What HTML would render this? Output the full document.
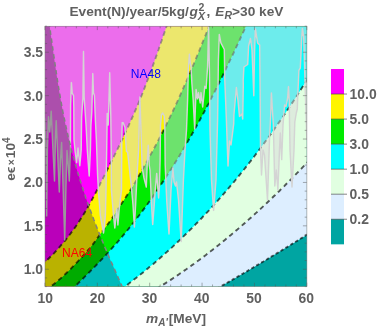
<!DOCTYPE html>
<html><head><meta charset="utf-8"><title>plot</title>
<style>html,body{margin:0;padding:0;background:#fff;width:382px;height:328px;overflow:hidden}</style></head>
<body>
<svg width="382" height="328" viewBox="0 0 382 328" style="position:absolute;left:0;top:0;will-change:transform">
<defs><clipPath id="c"><rect x="45.0" y="26.2" width="261.9" height="260.4"/></clipPath></defs>
<g clip-path="url(#c)">
<rect x="40" y="20" width="280" height="280" fill="#ff00ff"/>
<path d="M41.4 265.3 L44.1 262.9 L46.7 260.4 L49.2 258.0 L51.7 255.5 L54.1 253.1 L56.4 250.6 L58.6 248.2 L60.7 245.7 L62.8 243.3 L64.9 240.8 L66.9 238.4 L68.8 235.9 L70.6 233.5 L72.4 231.0 L74.2 228.6 L75.9 226.2 L77.6 223.7 L79.2 221.3 L80.8 218.8 L82.3 216.4 L83.8 213.9 L85.3 211.5 L86.7 209.0 L88.1 206.6 L89.5 204.1 L90.8 201.7 L92.2 199.2 L93.5 196.8 L94.8 194.4 L96.1 191.9 L97.3 189.5 L98.6 187.0 L99.8 184.6 L101.0 182.1 L102.3 179.7 L103.5 177.2 L104.7 174.8 L106.0 172.3 L107.2 169.9 L108.4 167.4 L109.6 165.0 L110.9 162.5 L112.1 160.1 L113.3 157.7 L114.5 155.2 L115.7 152.8 L116.9 150.3 L118.1 147.9 L119.3 145.4 L120.4 143.0 L121.6 140.5 L122.8 138.1 L123.9 135.6 L125.1 133.2 L126.2 130.7 L127.4 128.3 L128.5 125.9 L129.6 123.4 L130.7 121.0 L131.8 118.5 L132.9 116.1 L134.0 113.6 L135.0 111.2 L136.1 108.7 L137.1 106.3 L138.2 103.8 L139.2 101.4 L140.2 98.9 L141.2 96.5 L142.2 94.0 L143.1 91.6 L144.1 89.2 L145.0 86.7 L146.0 84.3 L146.9 81.8 L147.8 79.4 L148.8 76.9 L149.7 74.5 L150.6 72.0 L151.5 69.6 L152.3 67.1 L153.2 64.7 L154.1 62.2 L155.0 59.8 L155.8 57.4 L156.7 54.9 L157.5 52.5 L158.4 50.0 L159.2 47.6 L160.1 45.1 L160.9 42.7 L161.8 40.2 L162.6 37.8 L163.4 35.3 L164.3 32.9 L165.1 30.4 L166.0 28.0 L166.8 25.5 L167.6 23.1 L326.8 18.1 L326.8 306.6 L36.4 306.6 Z" fill="#fff500"/>
<path d="M45.4 290.4 L49.2 287.7 L52.7 285.0 L56.1 282.3 L59.3 279.6 L62.3 276.9 L65.2 274.2 L68.0 271.5 L70.7 268.9 L73.3 266.2 L75.9 263.5 L78.4 260.8 L80.9 258.1 L83.4 255.4 L85.9 252.7 L88.3 250.0 L90.6 247.3 L92.7 244.6 L94.7 241.9 L96.6 239.2 L98.5 236.5 L100.5 233.8 L102.5 231.2 L104.6 228.5 L106.6 225.8 L108.6 223.1 L110.5 220.4 L112.4 217.7 L114.2 215.0 L116.0 212.3 L117.7 209.6 L119.5 206.9 L121.2 204.2 L123.0 201.5 L124.8 198.8 L126.5 196.1 L128.3 193.5 L130.0 190.8 L131.7 188.1 L133.4 185.4 L135.0 182.7 L136.6 180.0 L138.1 177.3 L139.7 174.6 L141.1 171.9 L142.6 169.2 L144.1 166.5 L145.6 163.8 L147.1 161.1 L148.5 158.4 L150.0 155.8 L151.5 153.1 L153.0 150.4 L154.4 147.7 L155.9 145.0 L157.3 142.3 L158.7 139.6 L160.1 136.9 L161.5 134.2 L162.9 131.5 L164.2 128.8 L165.6 126.1 L166.9 123.4 L168.2 120.7 L169.5 118.1 L170.8 115.4 L172.1 112.7 L173.4 110.0 L174.7 107.3 L175.9 104.6 L177.2 101.9 L178.4 99.2 L179.6 96.5 L180.8 93.8 L182.0 91.1 L183.2 88.4 L184.4 85.7 L185.6 83.0 L186.8 80.4 L188.0 77.7 L189.1 75.0 L190.3 72.3 L191.4 69.6 L192.5 66.9 L193.7 64.2 L194.8 61.5 L195.9 58.8 L197.0 56.1 L198.1 53.4 L199.3 50.7 L200.4 48.0 L201.5 45.3 L202.5 42.7 L203.6 40.0 L204.7 37.3 L205.8 34.6 L206.9 31.9 L208.0 29.2 L209.0 26.5 L210.1 23.8 L326.8 18.8 L326.8 306.6 L40.4 306.6 Z" fill="#00eb00"/>
<path d="M70.8 290.4 L73.6 287.7 L76.4 285.0 L79.2 282.3 L81.9 279.6 L84.6 276.9 L87.3 274.2 L90.0 271.5 L92.7 268.8 L95.3 266.1 L97.9 263.4 L100.5 260.7 L103.0 258.0 L105.6 255.3 L108.0 252.6 L110.5 249.9 L112.9 247.2 L115.3 244.5 L117.7 241.8 L120.0 239.1 L122.3 236.4 L124.6 233.7 L126.8 231.0 L129.0 228.3 L131.2 225.6 L133.3 222.9 L135.4 220.2 L137.5 217.5 L139.6 214.8 L141.6 212.1 L143.6 209.4 L145.6 206.7 L147.6 204.0 L149.5 201.3 L151.4 198.6 L153.3 195.9 L155.2 193.2 L157.0 190.5 L158.9 187.8 L160.7 185.1 L162.5 182.4 L164.3 179.7 L166.0 177.0 L167.8 174.3 L169.5 171.6 L171.2 168.9 L172.9 166.2 L174.6 163.5 L176.3 160.8 L177.9 158.1 L179.6 155.4 L181.2 152.7 L182.8 150.0 L184.4 147.3 L186.0 144.6 L187.6 141.9 L189.1 139.2 L190.7 136.5 L192.2 133.8 L193.7 131.1 L195.2 128.4 L196.7 125.7 L198.2 123.0 L199.7 120.3 L201.1 117.6 L202.6 114.9 L204.0 112.2 L205.4 109.5 L206.8 106.8 L208.3 104.1 L209.7 101.4 L211.0 98.7 L212.4 96.0 L213.8 93.3 L215.2 90.6 L216.5 87.9 L217.9 85.2 L219.2 82.5 L220.5 79.8 L221.9 77.1 L223.2 74.4 L224.5 71.7 L225.8 69.0 L227.1 66.3 L228.4 63.6 L229.7 60.9 L231.0 58.2 L232.3 55.5 L233.6 52.8 L234.8 50.1 L236.1 47.4 L237.4 44.7 L238.6 42.0 L239.9 39.3 L241.1 36.6 L242.4 33.9 L243.7 31.2 L244.9 28.5 L246.1 25.8 L247.4 23.1 L326.8 18.1 L326.8 306.6 L65.8 306.6 Z" fill="#00ffff"/>
<path d="M120.6 289.8 L122.5 288.3 L124.4 286.9 L126.4 285.5 L128.3 284.0 L130.2 282.5 L132.1 281.1 L134.0 279.6 L136.0 278.1 L137.9 276.5 L139.8 275.0 L141.7 273.5 L143.7 271.9 L145.6 270.3 L147.5 268.7 L149.4 267.1 L151.3 265.5 L153.3 263.9 L155.2 262.3 L157.1 260.6 L159.0 258.9 L160.9 257.3 L162.9 255.6 L164.8 253.8 L166.7 252.1 L168.6 250.4 L170.6 248.6 L172.5 246.9 L174.4 245.1 L176.3 243.3 L178.2 241.5 L180.2 239.6 L182.1 237.8 L184.0 235.9 L185.9 234.0 L187.8 232.2 L189.8 230.2 L191.7 228.3 L193.6 226.4 L195.5 224.4 L197.4 222.5 L199.4 220.5 L201.3 218.5 L203.2 216.4 L205.1 214.4 L207.1 212.3 L209.0 210.3 L210.9 208.2 L212.8 206.1 L214.7 204.0 L216.7 201.8 L218.6 199.7 L220.5 197.5 L222.4 195.3 L224.3 193.1 L226.3 190.9 L228.2 188.6 L230.1 186.4 L232.0 184.1 L234.0 181.8 L235.9 179.5 L237.8 177.1 L239.7 174.8 L241.6 172.4 L243.6 170.0 L245.5 167.6 L247.4 165.2 L249.3 162.7 L251.2 160.3 L253.2 157.8 L255.1 155.3 L257.0 152.7 L258.9 150.2 L260.8 147.6 L262.8 145.0 L264.7 142.4 L266.6 139.8 L268.5 137.2 L270.5 134.5 L272.4 131.8 L274.3 129.1 L276.2 126.4 L278.1 123.6 L280.1 120.9 L282.0 118.1 L283.9 115.3 L285.8 112.5 L287.7 109.6 L289.7 106.7 L291.6 103.8 L293.5 100.9 L295.4 98.0 L297.4 95.0 L299.3 92.0 L301.2 89.0 L303.1 86.0 L305.0 83.0 L307.0 79.9 L308.9 76.8 L310.8 73.7 L326.8 68.7 L326.8 306.6 L115.6 306.6 Z" fill="#e1ffe1"/>
<path d="M156.2 288.9 L157.8 288.0 L159.3 287.0 L160.9 286.0 L162.4 285.1 L164.0 284.1 L165.6 283.1 L167.1 282.1 L168.7 281.1 L170.3 280.1 L171.8 279.1 L173.4 278.0 L174.9 277.0 L176.5 276.0 L178.1 274.9 L179.6 273.8 L181.2 272.8 L182.7 271.7 L184.3 270.6 L185.9 269.5 L187.4 268.4 L189.0 267.3 L190.6 266.2 L192.1 265.1 L193.7 264.0 L195.2 262.9 L196.8 261.7 L198.4 260.6 L199.9 259.4 L201.5 258.3 L203.0 257.1 L204.6 255.9 L206.2 254.7 L207.7 253.5 L209.3 252.3 L210.9 251.1 L212.4 249.9 L214.0 248.7 L215.5 247.4 L217.1 246.2 L218.7 245.0 L220.2 243.7 L221.8 242.5 L223.3 241.2 L224.9 239.9 L226.5 238.6 L228.0 237.3 L229.6 236.0 L231.2 234.7 L232.7 233.4 L234.3 232.1 L235.8 230.8 L237.4 229.5 L239.0 228.1 L240.5 226.8 L242.1 225.4 L243.7 224.0 L245.2 222.7 L246.8 221.3 L248.3 219.9 L249.9 218.5 L251.5 217.1 L253.0 215.7 L254.6 214.3 L256.1 212.9 L257.7 211.5 L259.3 210.0 L260.8 208.6 L262.4 207.1 L264.0 205.7 L265.5 204.2 L267.1 202.7 L268.6 201.3 L270.2 199.8 L271.8 198.3 L273.3 196.8 L274.9 195.3 L276.4 193.8 L278.0 192.2 L279.6 190.7 L281.1 189.2 L282.7 187.6 L284.3 186.1 L285.8 184.5 L287.4 183.0 L288.9 181.4 L290.5 179.8 L292.1 178.2 L293.6 176.6 L295.2 175.0 L296.7 173.4 L298.3 171.8 L299.9 170.2 L301.4 168.6 L303.0 166.9 L304.6 165.3 L306.1 163.7 L307.7 162.0 L309.2 160.3 L310.8 158.7 L326.8 153.7 L326.8 306.6 L151.2 306.6 Z" fill="#ddeeff"/>
<path d="M216.9 288.7 L217.8 288.2 L218.8 287.6 L219.7 287.1 L220.7 286.5 L221.6 286.0 L222.6 285.4 L223.5 284.9 L224.5 284.3 L225.4 283.8 L226.4 283.3 L227.3 282.7 L228.3 282.2 L229.2 281.6 L230.2 281.1 L231.1 280.5 L232.1 280.0 L233.0 279.4 L234.0 278.9 L234.9 278.3 L235.9 277.7 L236.8 277.2 L237.8 276.6 L238.7 276.1 L239.7 275.5 L240.6 275.0 L241.6 274.4 L242.5 273.9 L243.5 273.3 L244.4 272.7 L245.4 272.2 L246.3 271.6 L247.3 271.1 L248.2 270.5 L249.1 269.9 L250.1 269.4 L251.0 268.8 L252.0 268.3 L252.9 267.7 L253.9 267.1 L254.8 266.6 L255.8 266.0 L256.7 265.4 L257.7 264.9 L258.6 264.3 L259.6 263.7 L260.5 263.2 L261.5 262.6 L262.4 262.0 L263.4 261.5 L264.3 260.9 L265.3 260.3 L266.2 259.8 L267.2 259.2 L268.1 258.6 L269.1 258.0 L270.0 257.5 L271.0 256.9 L271.9 256.3 L272.9 255.7 L273.8 255.2 L274.8 254.6 L275.7 254.0 L276.7 253.4 L277.6 252.9 L278.6 252.3 L279.5 251.7 L280.4 251.1 L281.4 250.6 L282.3 250.0 L283.3 249.4 L284.2 248.8 L285.2 248.2 L286.1 247.6 L287.1 247.1 L288.0 246.5 L289.0 245.9 L289.9 245.3 L290.9 244.7 L291.8 244.1 L292.8 243.5 L293.7 243.0 L294.7 242.4 L295.6 241.8 L296.6 241.2 L297.5 240.6 L298.5 240.0 L299.4 239.4 L300.4 238.8 L301.3 238.2 L302.3 237.7 L303.2 237.1 L304.2 236.5 L305.1 235.9 L306.1 235.3 L307.0 234.7 L308.0 234.1 L308.9 233.5 L309.9 232.9 L310.8 232.3 L326.8 227.3 L326.8 306.6 L211.9 306.6 Z" fill="#00a5a2"/>
<path d="M41.4 265.3 L44.1 262.9 L46.7 260.4 L49.2 258.0 L51.7 255.5 L54.1 253.1 L56.4 250.6 L58.6 248.2 L60.7 245.7 L62.8 243.3 L64.9 240.8 L66.9 238.4 L68.8 235.9 L70.6 233.5 L72.4 231.0 L74.2 228.6 L75.9 226.2 L77.6 223.7 L79.2 221.3 L80.8 218.8 L82.3 216.4 L83.8 213.9 L85.3 211.5 L86.7 209.0 L88.1 206.6 L89.5 204.1 L90.8 201.7 L92.2 199.2 L93.5 196.8 L94.8 194.4 L96.1 191.9 L97.3 189.5 L98.6 187.0 L99.8 184.6 L101.0 182.1 L102.3 179.7 L103.5 177.2 L104.7 174.8 L106.0 172.3 L107.2 169.9 L108.4 167.4 L109.6 165.0 L110.9 162.5 L112.1 160.1 L113.3 157.7 L114.5 155.2 L115.7 152.8 L116.9 150.3 L118.1 147.9 L119.3 145.4 L120.4 143.0 L121.6 140.5 L122.8 138.1 L123.9 135.6 L125.1 133.2 L126.2 130.7 L127.4 128.3 L128.5 125.9 L129.6 123.4 L130.7 121.0 L131.8 118.5 L132.9 116.1 L134.0 113.6 L135.0 111.2 L136.1 108.7 L137.1 106.3 L138.2 103.8 L139.2 101.4 L140.2 98.9 L141.2 96.5 L142.2 94.0 L143.1 91.6 L144.1 89.2 L145.0 86.7 L146.0 84.3 L146.9 81.8 L147.8 79.4 L148.8 76.9 L149.7 74.5 L150.6 72.0 L151.5 69.6 L152.3 67.1 L153.2 64.7 L154.1 62.2 L155.0 59.8 L155.8 57.4 L156.7 54.9 L157.5 52.5 L158.4 50.0 L159.2 47.6 L160.1 45.1 L160.9 42.7 L161.8 40.2 L162.6 37.8 L163.4 35.3 L164.3 32.9 L165.1 30.4 L166.0 28.0 L166.8 25.5 L167.6 23.1" fill="none" stroke="#000" stroke-opacity="0.64" stroke-width="1.9" stroke-dasharray="4.6 3.6"/>
<path d="M45.4 290.4 L49.2 287.7 L52.7 285.0 L56.1 282.3 L59.3 279.6 L62.3 276.9 L65.2 274.2 L68.0 271.5 L70.7 268.9 L73.3 266.2 L75.9 263.5 L78.4 260.8 L80.9 258.1 L83.4 255.4 L85.9 252.7 L88.3 250.0 L90.6 247.3 L92.7 244.6 L94.7 241.9 L96.6 239.2 L98.5 236.5 L100.5 233.8 L102.5 231.2 L104.6 228.5 L106.6 225.8 L108.6 223.1 L110.5 220.4 L112.4 217.7 L114.2 215.0 L116.0 212.3 L117.7 209.6 L119.5 206.9 L121.2 204.2 L123.0 201.5 L124.8 198.8 L126.5 196.1 L128.3 193.5 L130.0 190.8 L131.7 188.1 L133.4 185.4 L135.0 182.7 L136.6 180.0 L138.1 177.3 L139.7 174.6 L141.1 171.9 L142.6 169.2 L144.1 166.5 L145.6 163.8 L147.1 161.1 L148.5 158.4 L150.0 155.8 L151.5 153.1 L153.0 150.4 L154.4 147.7 L155.9 145.0 L157.3 142.3 L158.7 139.6 L160.1 136.9 L161.5 134.2 L162.9 131.5 L164.2 128.8 L165.6 126.1 L166.9 123.4 L168.2 120.7 L169.5 118.1 L170.8 115.4 L172.1 112.7 L173.4 110.0 L174.7 107.3 L175.9 104.6 L177.2 101.9 L178.4 99.2 L179.6 96.5 L180.8 93.8 L182.0 91.1 L183.2 88.4 L184.4 85.7 L185.6 83.0 L186.8 80.4 L188.0 77.7 L189.1 75.0 L190.3 72.3 L191.4 69.6 L192.5 66.9 L193.7 64.2 L194.8 61.5 L195.9 58.8 L197.0 56.1 L198.1 53.4 L199.3 50.7 L200.4 48.0 L201.5 45.3 L202.5 42.7 L203.6 40.0 L204.7 37.3 L205.8 34.6 L206.9 31.9 L208.0 29.2 L209.0 26.5 L210.1 23.8" fill="none" stroke="#000" stroke-opacity="0.64" stroke-width="1.9" stroke-dasharray="4.6 3.6"/>
<path d="M70.8 290.4 L73.6 287.7 L76.4 285.0 L79.2 282.3 L81.9 279.6 L84.6 276.9 L87.3 274.2 L90.0 271.5 L92.7 268.8 L95.3 266.1 L97.9 263.4 L100.5 260.7 L103.0 258.0 L105.6 255.3 L108.0 252.6 L110.5 249.9 L112.9 247.2 L115.3 244.5 L117.7 241.8 L120.0 239.1 L122.3 236.4 L124.6 233.7 L126.8 231.0 L129.0 228.3 L131.2 225.6 L133.3 222.9 L135.4 220.2 L137.5 217.5 L139.6 214.8 L141.6 212.1 L143.6 209.4 L145.6 206.7 L147.6 204.0 L149.5 201.3 L151.4 198.6 L153.3 195.9 L155.2 193.2 L157.0 190.5 L158.9 187.8 L160.7 185.1 L162.5 182.4 L164.3 179.7 L166.0 177.0 L167.8 174.3 L169.5 171.6 L171.2 168.9 L172.9 166.2 L174.6 163.5 L176.3 160.8 L177.9 158.1 L179.6 155.4 L181.2 152.7 L182.8 150.0 L184.4 147.3 L186.0 144.6 L187.6 141.9 L189.1 139.2 L190.7 136.5 L192.2 133.8 L193.7 131.1 L195.2 128.4 L196.7 125.7 L198.2 123.0 L199.7 120.3 L201.1 117.6 L202.6 114.9 L204.0 112.2 L205.4 109.5 L206.8 106.8 L208.3 104.1 L209.7 101.4 L211.0 98.7 L212.4 96.0 L213.8 93.3 L215.2 90.6 L216.5 87.9 L217.9 85.2 L219.2 82.5 L220.5 79.8 L221.9 77.1 L223.2 74.4 L224.5 71.7 L225.8 69.0 L227.1 66.3 L228.4 63.6 L229.7 60.9 L231.0 58.2 L232.3 55.5 L233.6 52.8 L234.8 50.1 L236.1 47.4 L237.4 44.7 L238.6 42.0 L239.9 39.3 L241.1 36.6 L242.4 33.9 L243.7 31.2 L244.9 28.5 L246.1 25.8 L247.4 23.1" fill="none" stroke="#000" stroke-opacity="0.64" stroke-width="1.9" stroke-dasharray="4.6 3.6"/>
<path d="M120.6 289.8 L122.5 288.3 L124.4 286.9 L126.4 285.5 L128.3 284.0 L130.2 282.5 L132.1 281.1 L134.0 279.6 L136.0 278.1 L137.9 276.5 L139.8 275.0 L141.7 273.5 L143.7 271.9 L145.6 270.3 L147.5 268.7 L149.4 267.1 L151.3 265.5 L153.3 263.9 L155.2 262.3 L157.1 260.6 L159.0 258.9 L160.9 257.3 L162.9 255.6 L164.8 253.8 L166.7 252.1 L168.6 250.4 L170.6 248.6 L172.5 246.9 L174.4 245.1 L176.3 243.3 L178.2 241.5 L180.2 239.6 L182.1 237.8 L184.0 235.9 L185.9 234.0 L187.8 232.2 L189.8 230.2 L191.7 228.3 L193.6 226.4 L195.5 224.4 L197.4 222.5 L199.4 220.5 L201.3 218.5 L203.2 216.4 L205.1 214.4 L207.1 212.3 L209.0 210.3 L210.9 208.2 L212.8 206.1 L214.7 204.0 L216.7 201.8 L218.6 199.7 L220.5 197.5 L222.4 195.3 L224.3 193.1 L226.3 190.9 L228.2 188.6 L230.1 186.4 L232.0 184.1 L234.0 181.8 L235.9 179.5 L237.8 177.1 L239.7 174.8 L241.6 172.4 L243.6 170.0 L245.5 167.6 L247.4 165.2 L249.3 162.7 L251.2 160.3 L253.2 157.8 L255.1 155.3 L257.0 152.7 L258.9 150.2 L260.8 147.6 L262.8 145.0 L264.7 142.4 L266.6 139.8 L268.5 137.2 L270.5 134.5 L272.4 131.8 L274.3 129.1 L276.2 126.4 L278.1 123.6 L280.1 120.9 L282.0 118.1 L283.9 115.3 L285.8 112.5 L287.7 109.6 L289.7 106.7 L291.6 103.8 L293.5 100.9 L295.4 98.0 L297.4 95.0 L299.3 92.0 L301.2 89.0 L303.1 86.0 L305.0 83.0 L307.0 79.9 L308.9 76.8 L310.8 73.7" fill="none" stroke="#000" stroke-opacity="0.64" stroke-width="1.9" stroke-dasharray="4.6 3.6"/>
<path d="M156.2 288.9 L157.8 288.0 L159.3 287.0 L160.9 286.0 L162.4 285.1 L164.0 284.1 L165.6 283.1 L167.1 282.1 L168.7 281.1 L170.3 280.1 L171.8 279.1 L173.4 278.0 L174.9 277.0 L176.5 276.0 L178.1 274.9 L179.6 273.8 L181.2 272.8 L182.7 271.7 L184.3 270.6 L185.9 269.5 L187.4 268.4 L189.0 267.3 L190.6 266.2 L192.1 265.1 L193.7 264.0 L195.2 262.9 L196.8 261.7 L198.4 260.6 L199.9 259.4 L201.5 258.3 L203.0 257.1 L204.6 255.9 L206.2 254.7 L207.7 253.5 L209.3 252.3 L210.9 251.1 L212.4 249.9 L214.0 248.7 L215.5 247.4 L217.1 246.2 L218.7 245.0 L220.2 243.7 L221.8 242.5 L223.3 241.2 L224.9 239.9 L226.5 238.6 L228.0 237.3 L229.6 236.0 L231.2 234.7 L232.7 233.4 L234.3 232.1 L235.8 230.8 L237.4 229.5 L239.0 228.1 L240.5 226.8 L242.1 225.4 L243.7 224.0 L245.2 222.7 L246.8 221.3 L248.3 219.9 L249.9 218.5 L251.5 217.1 L253.0 215.7 L254.6 214.3 L256.1 212.9 L257.7 211.5 L259.3 210.0 L260.8 208.6 L262.4 207.1 L264.0 205.7 L265.5 204.2 L267.1 202.7 L268.6 201.3 L270.2 199.8 L271.8 198.3 L273.3 196.8 L274.9 195.3 L276.4 193.8 L278.0 192.2 L279.6 190.7 L281.1 189.2 L282.7 187.6 L284.3 186.1 L285.8 184.5 L287.4 183.0 L288.9 181.4 L290.5 179.8 L292.1 178.2 L293.6 176.6 L295.2 175.0 L296.7 173.4 L298.3 171.8 L299.9 170.2 L301.4 168.6 L303.0 166.9 L304.6 165.3 L306.1 163.7 L307.7 162.0 L309.2 160.3 L310.8 158.7" fill="none" stroke="#000" stroke-opacity="0.64" stroke-width="1.9" stroke-dasharray="4.6 3.6"/>
<path d="M216.9 288.7 L217.8 288.2 L218.8 287.6 L219.7 287.1 L220.7 286.5 L221.6 286.0 L222.6 285.4 L223.5 284.9 L224.5 284.3 L225.4 283.8 L226.4 283.3 L227.3 282.7 L228.3 282.2 L229.2 281.6 L230.2 281.1 L231.1 280.5 L232.1 280.0 L233.0 279.4 L234.0 278.9 L234.9 278.3 L235.9 277.7 L236.8 277.2 L237.8 276.6 L238.7 276.1 L239.7 275.5 L240.6 275.0 L241.6 274.4 L242.5 273.9 L243.5 273.3 L244.4 272.7 L245.4 272.2 L246.3 271.6 L247.3 271.1 L248.2 270.5 L249.1 269.9 L250.1 269.4 L251.0 268.8 L252.0 268.3 L252.9 267.7 L253.9 267.1 L254.8 266.6 L255.8 266.0 L256.7 265.4 L257.7 264.9 L258.6 264.3 L259.6 263.7 L260.5 263.2 L261.5 262.6 L262.4 262.0 L263.4 261.5 L264.3 260.9 L265.3 260.3 L266.2 259.8 L267.2 259.2 L268.1 258.6 L269.1 258.0 L270.0 257.5 L271.0 256.9 L271.9 256.3 L272.9 255.7 L273.8 255.2 L274.8 254.6 L275.7 254.0 L276.7 253.4 L277.6 252.9 L278.6 252.3 L279.5 251.7 L280.4 251.1 L281.4 250.6 L282.3 250.0 L283.3 249.4 L284.2 248.8 L285.2 248.2 L286.1 247.6 L287.1 247.1 L288.0 246.5 L289.0 245.9 L289.9 245.3 L290.9 244.7 L291.8 244.1 L292.8 243.5 L293.7 243.0 L294.7 242.4 L295.6 241.8 L296.6 241.2 L297.5 240.6 L298.5 240.0 L299.4 239.4 L300.4 238.8 L301.3 238.2 L302.3 237.7 L303.2 237.1 L304.2 236.5 L305.1 235.9 L306.1 235.3 L307.0 234.7 L308.0 234.1 L308.9 233.5 L309.9 232.9 L310.8 232.3" fill="none" stroke="#000" stroke-opacity="0.64" stroke-width="1.9" stroke-dasharray="3.3 2.4"/>
<path d="M40.0 21.2 L40.0 118.0 L44.6 118.0 L46.0 150.0 L46.7 216.0 L47.4 150.0 L48.5 116.7 L49.8 132.0 L51.2 111.3 L52.5 140.0 L54.5 181.0 L55.4 140.0 L56.2 120.7 L57.5 150.0 L59.3 192.0 L60.5 160.0 L61.6 142.5 L63.2 190.0 L64.7 240.0 L66.0 185.0 L67.0 150.5 L68.2 165.0 L69.3 181.0 L70.4 150.0 L70.6 105.0 L71.4 82.6 L72.2 93.0 L73.5 95.6 L73.8 107.0 L74.0 140.0 L75.2 152.0 L76.6 162.6 L78.0 148.0 L79.8 165.7 L81.2 150.0 L81.6 117.0 L82.9 98.0 L83.5 51.4 L84.2 98.0 L86.2 128.0 L87.3 150.0 L89.2 176.0 L90.4 150.0 L90.9 126.0 L91.8 112.0 L92.8 73.6 L93.5 93.0 L94.4 95.6 L95.4 120.0 L96.4 140.0 L97.6 175.0 L98.4 190.0 L100.3 215.0 L102.8 229.0 L103.5 233.0 L104.1 229.0 L105.4 215.0 L106.0 190.0 L106.7 150.0 L107.2 113.4 L108.2 125.0 L108.7 110.0 L109.7 72.8 L110.8 116.0 L111.2 150.0 L111.4 190.0 L113.5 215.0 L114.8 228.0 L116.9 209.0 L117.9 225.0 L119.2 208.8 L121.5 190.0 L121.8 140.0 L122.2 122.6 L123.2 122.8 L125.0 127.5 L125.7 140.0 L126.4 151.3 L127.7 152.6 L129.0 165.0 L130.6 180.0 L131.3 186.0 L133.0 205.0 L134.4 227.0 L135.6 205.0 L137.0 175.0 L138.6 150.0 L139.9 97.0 L141.6 150.0 L142.2 168.0 L144.0 178.0 L146.3 187.0 L147.2 165.0 L148.2 145.2 L149.2 165.0 L150.0 170.0 L151.5 204.0 L152.7 224.5 L154.2 205.0 L155.2 190.0 L156.7 173.5 L157.8 188.0 L158.6 198.0 L159.4 186.0 L160.1 160.0 L160.5 125.0 L161.5 115.0 L162.8 113.0 L164.2 116.0 L164.9 130.0 L165.2 165.0 L166.8 202.0 L169.0 234.0 L171.0 190.0 L172.9 168.0 L174.0 182.0 L175.5 186.0 L176.5 182.0 L178.5 200.0 L181.2 241.5 L183.4 180.0 L185.0 150.0 L186.5 130.0 L187.6 100.0 L188.3 70.0 L189.4 54.3 L190.3 63.0 L191.0 66.8 L191.9 83.5 L193.2 100.0 L194.2 120.0 L194.7 129.0 L195.3 110.0 L196.1 89.5 L197.5 98.8 L198.5 92.6 L200.2 103.0 L201.0 92.6 L202.7 107.0 L204.8 86.3 L206.1 88.5 L207.6 66.8 L208.6 27.0 L209.5 75.0 L210.0 130.0 L211.5 180.0 L213.6 210.4 L216.0 180.0 L217.6 120.0 L218.4 60.0 L219.3 34.4 L220.9 42.8 L224.3 49.5 L224.8 80.0 L226.4 120.0 L228.0 166.0 L229.5 141.0 L231.0 145.0 L233.7 124.0 L233.9 115.0 L236.4 87.5 L237.9 100.0 L239.5 116.4 L242.0 114.0 L242.7 119.0 L243.3 85.0 L243.2 80.0 L243.9 67.0 L247.7 64.5 L248.6 46.0 L250.5 38.5 L252.0 50.0 L253.8 95.7 L254.6 50.0 L255.4 28.9 L257.6 43.0 L259.7 45.0 L260.1 88.0 L260.5 148.0 L261.5 175.0 L263.0 150.0 L264.5 155.0 L267.5 200.0 L269.5 140.0 L270.7 115.0 L271.4 92.9 L272.4 110.0 L273.3 124.0 L274.8 186.0 L276.3 170.0 L277.9 190.0 L279.5 150.0 L280.3 133.0 L281.7 159.6 L283.0 125.0 L283.9 113.7 L284.6 105.0 L286.0 106.4 L287.5 99.0 L288.5 86.6 L289.2 100.0 L290.0 150.0 L292.0 187.0 L294.0 150.0 L294.8 122.0 L296.3 113.0 L297.3 109.0 L297.8 94.7 L298.5 80.0 L298.9 70.3 L300.3 68.0 L301.6 41.0 L302.4 28.4 L303.7 36.8 L305.2 88.0 L306.8 140.0 L311.8 140.0 L311.8 21.2 Z" fill="rgba(217,217,217,0.5)"/>
<path d="M44.6 118.0 L46.0 150.0 L46.7 216.0 L47.4 150.0 L48.5 116.7 L49.8 132.0 L51.2 111.3 L52.5 140.0 L54.5 181.0 L55.4 140.0 L56.2 120.7 L57.5 150.0 L59.3 192.0 L60.5 160.0 L61.6 142.5 L63.2 190.0 L64.7 240.0 L66.0 185.0 L67.0 150.5 L68.2 165.0 L69.3 181.0 L70.4 150.0 L70.6 105.0 L71.4 82.6 L72.2 93.0 L73.5 95.6 L73.8 107.0 L74.0 140.0 L75.2 152.0 L76.6 162.6 L78.0 148.0 L79.8 165.7 L81.2 150.0 L81.6 117.0 L82.9 98.0 L83.5 51.4 L84.2 98.0 L86.2 128.0 L87.3 150.0 L89.2 176.0 L90.4 150.0 L90.9 126.0 L91.8 112.0 L92.8 73.6 L93.5 93.0 L94.4 95.6 L95.4 120.0 L96.4 140.0 L97.6 175.0 L98.4 190.0 L100.3 215.0 L102.8 229.0 L103.5 233.0 L104.1 229.0 L105.4 215.0 L106.0 190.0 L106.7 150.0 L107.2 113.4 L108.2 125.0 L108.7 110.0 L109.7 72.8 L110.8 116.0 L111.2 150.0 L111.4 190.0 L113.5 215.0 L114.8 228.0 L116.9 209.0 L117.9 225.0 L119.2 208.8 L121.5 190.0 L121.8 140.0 L122.2 122.6 L123.2 122.8 L125.0 127.5 L125.7 140.0 L126.4 151.3 L127.7 152.6 L129.0 165.0 L130.6 180.0 L131.3 186.0 L133.0 205.0 L134.4 227.0 L135.6 205.0 L137.0 175.0 L138.6 150.0 L139.9 97.0 L141.6 150.0 L142.2 168.0 L144.0 178.0 L146.3 187.0 L147.2 165.0 L148.2 145.2 L149.2 165.0 L150.0 170.0 L151.5 204.0 L152.7 224.5 L154.2 205.0 L155.2 190.0 L156.7 173.5 L157.8 188.0 L158.6 198.0 L159.4 186.0 L160.1 160.0 L160.5 125.0 L161.5 115.0 L162.8 113.0 L164.2 116.0 L164.9 130.0 L165.2 165.0 L166.8 202.0 L169.0 234.0 L171.0 190.0 L172.9 168.0 L174.0 182.0 L175.5 186.0 L176.5 182.0 L178.5 200.0 L181.2 241.5 L183.4 180.0 L185.0 150.0 L186.5 130.0 L187.6 100.0 L188.3 70.0 L189.4 54.3 L190.3 63.0 L191.0 66.8 L191.9 83.5 L193.2 100.0 L194.2 120.0 L194.7 129.0 L195.3 110.0 L196.1 89.5 L197.5 98.8 L198.5 92.6 L200.2 103.0 L201.0 92.6 L202.7 107.0 L204.8 86.3 L206.1 88.5 L207.6 66.8 L208.6 27.0 L209.5 75.0 L210.0 130.0 L211.5 180.0 L213.6 210.4 L216.0 180.0 L217.6 120.0 L218.4 60.0 L219.3 34.4 L220.9 42.8 L224.3 49.5 L224.8 80.0 L226.4 120.0 L228.0 166.0 L229.5 141.0 L231.0 145.0 L233.7 124.0 L233.9 115.0 L236.4 87.5 L237.9 100.0 L239.5 116.4 L242.0 114.0 L242.7 119.0 L243.3 85.0 L243.2 80.0 L243.9 67.0 L247.7 64.5 L248.6 46.0 L250.5 38.5 L252.0 50.0 L253.8 95.7 L254.6 50.0 L255.4 28.9 L257.6 43.0 L259.7 45.0 L260.1 88.0 L260.5 148.0 L261.5 175.0 L263.0 150.0 L264.5 155.0 L267.5 200.0 L269.5 140.0 L270.7 115.0 L271.4 92.9 L272.4 110.0 L273.3 124.0 L274.8 186.0 L276.3 170.0 L277.9 190.0 L279.5 150.0 L280.3 133.0 L281.7 159.6 L283.0 125.0 L283.9 113.7 L284.6 105.0 L286.0 106.4 L287.5 99.0 L288.5 86.6 L289.2 100.0 L290.0 150.0 L292.0 187.0 L294.0 150.0 L294.8 122.0 L296.3 113.0 L297.3 109.0 L297.8 94.7 L298.5 80.0 L298.9 70.3 L300.3 68.0 L301.6 41.0 L302.4 28.4 L303.7 36.8 L305.2 88.0 L306.8 140.0" fill="none" stroke="#d4d4d4" stroke-width="1.45" stroke-linejoin="round"/>
<path d="M40.0 21.2 L49.1 22.5 L49.5 25.2 L49.9 27.9 L50.3 30.6 L50.6 33.3 L51.0 36.0 L51.4 38.7 L51.8 41.4 L52.2 44.2 L52.6 46.9 L52.9 49.6 L53.3 52.3 L53.7 55.0 L54.1 57.7 L54.5 60.4 L54.9 63.1 L55.3 65.8 L55.7 68.5 L56.1 71.2 L56.5 73.9 L56.9 76.6 L57.3 79.3 L57.7 82.1 L58.2 84.8 L58.6 87.5 L59.0 90.2 L59.5 92.9 L60.0 95.6 L60.4 98.3 L60.9 101.0 L61.4 103.7 L61.9 106.4 L62.4 109.1 L62.9 111.8 L63.5 114.5 L64.0 117.2 L64.6 120.0 L65.1 122.7 L65.7 125.4 L66.3 128.1 L66.9 130.8 L67.5 133.5 L68.1 136.2 L68.8 138.9 L69.4 141.6 L70.1 144.3 L70.7 147.0 L71.4 149.7 L72.1 152.4 L72.9 155.1 L73.6 157.9 L74.3 160.6 L75.1 163.3 L75.9 166.0 L76.6 168.7 L77.4 171.4 L78.2 174.1 L79.1 176.8 L79.9 179.5 L80.8 182.2 L81.6 184.9 L82.5 187.6 L83.4 190.3 L84.3 193.0 L85.2 195.8 L86.1 198.5 L87.1 201.2 L88.0 203.9 L89.0 206.6 L90.0 209.3 L91.0 212.0 L92.0 214.7 L93.0 217.4 L94.0 220.1 L95.1 222.8 L96.1 225.5 L97.2 228.2 L98.3 230.9 L99.4 233.7 L100.5 236.4 L101.6 239.1 L102.7 241.8 L103.8 244.5 L104.9 247.2 L106.1 249.9 L107.2 252.6 L108.4 255.3 L109.5 258.0 L110.7 260.7 L111.9 263.4 L113.1 266.1 L114.3 268.8 L115.5 271.6 L116.7 274.3 L117.9 277.0 L119.1 279.7 L120.3 282.4 L121.5 285.1 L122.7 287.8 L123.9 290.5 L40.0 291.6 Z" fill="rgba(0,0,0,0.27)"/>
<path d="M49.1 22.5 L49.5 25.2 L49.9 27.9 L50.3 30.6 L50.6 33.3 L51.0 36.0 L51.4 38.7 L51.8 41.4 L52.2 44.2 L52.6 46.9 L52.9 49.6 L53.3 52.3 L53.7 55.0 L54.1 57.7 L54.5 60.4 L54.9 63.1 L55.3 65.8 L55.7 68.5 L56.1 71.2 L56.5 73.9 L56.9 76.6 L57.3 79.3 L57.7 82.1 L58.2 84.8 L58.6 87.5 L59.0 90.2 L59.5 92.9 L60.0 95.6 L60.4 98.3 L60.9 101.0 L61.4 103.7 L61.9 106.4 L62.4 109.1 L62.9 111.8 L63.5 114.5 L64.0 117.2 L64.6 120.0 L65.1 122.7 L65.7 125.4 L66.3 128.1 L66.9 130.8 L67.5 133.5 L68.1 136.2 L68.8 138.9 L69.4 141.6 L70.1 144.3 L70.7 147.0 L71.4 149.7 L72.1 152.4 L72.9 155.1 L73.6 157.9 L74.3 160.6 L75.1 163.3 L75.9 166.0 L76.6 168.7 L77.4 171.4 L78.2 174.1 L79.1 176.8 L79.9 179.5 L80.8 182.2 L81.6 184.9 L82.5 187.6 L83.4 190.3 L84.3 193.0 L85.2 195.8 L86.1 198.5 L87.1 201.2 L88.0 203.9 L89.0 206.6 L90.0 209.3 L91.0 212.0 L92.0 214.7 L93.0 217.4 L94.0 220.1 L95.1 222.8 L96.1 225.5 L97.2 228.2 L98.3 230.9 L99.4 233.7 L100.5 236.4 L101.6 239.1 L102.7 241.8 L103.8 244.5 L104.9 247.2 L106.1 249.9 L107.2 252.6 L108.4 255.3 L109.5 258.0 L110.7 260.7 L111.9 263.4 L113.1 266.1 L114.3 268.8 L115.5 271.6 L116.7 274.3 L117.9 277.0 L119.1 279.7 L120.3 282.4 L121.5 285.1 L122.7 287.8 L123.9 290.5" fill="none" stroke="#808080" stroke-width="1.5" stroke-dasharray="4.5 3.5"/>
</g>
<path d="M44.95 286.60 v-3.9 M44.95 26.20 v3.9 M55.42 286.60 v-2.1 M55.42 26.20 v2.1 M65.90 286.60 v-2.1 M65.90 26.20 v2.1 M76.37 286.60 v-2.1 M76.37 26.20 v2.1 M86.85 286.60 v-2.1 M86.85 26.20 v2.1 M97.32 286.60 v-3.9 M97.32 26.20 v3.9 M107.79 286.60 v-2.1 M107.79 26.20 v2.1 M118.27 286.60 v-2.1 M118.27 26.20 v2.1 M128.74 286.60 v-2.1 M128.74 26.20 v2.1 M139.22 286.60 v-2.1 M139.22 26.20 v2.1 M149.69 286.60 v-3.9 M149.69 26.20 v3.9 M160.16 286.60 v-2.1 M160.16 26.20 v2.1 M170.64 286.60 v-2.1 M170.64 26.20 v2.1 M181.11 286.60 v-2.1 M181.11 26.20 v2.1 M191.59 286.60 v-2.1 M191.59 26.20 v2.1 M202.06 286.60 v-3.9 M202.06 26.20 v3.9 M212.53 286.60 v-2.1 M212.53 26.20 v2.1 M223.01 286.60 v-2.1 M223.01 26.20 v2.1 M233.48 286.60 v-2.1 M233.48 26.20 v2.1 M243.96 286.60 v-2.1 M243.96 26.20 v2.1 M254.43 286.60 v-3.9 M254.43 26.20 v3.9 M264.90 286.60 v-2.1 M264.90 26.20 v2.1 M275.38 286.60 v-2.1 M275.38 26.20 v2.1 M285.85 286.60 v-2.1 M285.85 26.20 v2.1 M296.33 286.60 v-2.1 M296.33 26.20 v2.1 M306.80 286.60 v-3.9 M306.80 26.20 v3.9 M44.95 286.60 h2.1 M306.80 286.60 h-2.1 M44.95 277.92 h2.1 M306.80 277.92 h-2.1 M44.95 269.24 h3.9 M306.80 269.24 h-3.9 M44.95 260.56 h2.1 M306.80 260.56 h-2.1 M44.95 251.88 h2.1 M306.80 251.88 h-2.1 M44.95 243.20 h2.1 M306.80 243.20 h-2.1 M44.95 234.52 h2.1 M306.80 234.52 h-2.1 M44.95 225.84 h3.9 M306.80 225.84 h-3.9 M44.95 217.16 h2.1 M306.80 217.16 h-2.1 M44.95 208.48 h2.1 M306.80 208.48 h-2.1 M44.95 199.80 h2.1 M306.80 199.80 h-2.1 M44.95 191.12 h2.1 M306.80 191.12 h-2.1 M44.95 182.44 h3.9 M306.80 182.44 h-3.9 M44.95 173.76 h2.1 M306.80 173.76 h-2.1 M44.95 165.08 h2.1 M306.80 165.08 h-2.1 M44.95 156.40 h2.1 M306.80 156.40 h-2.1 M44.95 147.72 h2.1 M306.80 147.72 h-2.1 M44.95 139.04 h3.9 M306.80 139.04 h-3.9 M44.95 130.36 h2.1 M306.80 130.36 h-2.1 M44.95 121.68 h2.1 M306.80 121.68 h-2.1 M44.95 113.00 h2.1 M306.80 113.00 h-2.1 M44.95 104.32 h2.1 M306.80 104.32 h-2.1 M44.95 95.64 h3.9 M306.80 95.64 h-3.9 M44.95 86.96 h2.1 M306.80 86.96 h-2.1 M44.95 78.28 h2.1 M306.80 78.28 h-2.1 M44.95 69.60 h2.1 M306.80 69.60 h-2.1 M44.95 60.92 h2.1 M306.80 60.92 h-2.1 M44.95 52.24 h3.9 M306.80 52.24 h-3.9 M44.95 43.56 h2.1 M306.80 43.56 h-2.1 M44.95 34.88 h2.1 M306.80 34.88 h-2.1 M44.95 26.20 h2.1 M306.80 26.20 h-2.1" stroke="#555" stroke-width="0.6" fill="none" opacity="0.8"/>
<rect x="45.0" y="26.2" width="261.9" height="260.4" fill="none" stroke="#777" stroke-width="0.5"/>
<text x="45.2" y="302.8" text-anchor="middle" style="font-family:'Liberation Sans',sans-serif;font-weight:bold;fill:#606060;font-size:13.9px">10</text>
<text x="97.4" y="302.8" text-anchor="middle" style="font-family:'Liberation Sans',sans-serif;font-weight:bold;fill:#606060;font-size:13.9px">20</text>
<text x="149.6" y="302.8" text-anchor="middle" style="font-family:'Liberation Sans',sans-serif;font-weight:bold;fill:#606060;font-size:13.9px">30</text>
<text x="201.8" y="302.8" text-anchor="middle" style="font-family:'Liberation Sans',sans-serif;font-weight:bold;fill:#606060;font-size:13.9px">40</text>
<text x="254.0" y="302.8" text-anchor="middle" style="font-family:'Liberation Sans',sans-serif;font-weight:bold;fill:#606060;font-size:13.9px">50</text>
<text x="306.2" y="302.8" text-anchor="middle" style="font-family:'Liberation Sans',sans-serif;font-weight:bold;fill:#606060;font-size:13.9px">60</text>
<text x="43.1" y="274.2" text-anchor="end" style="font-family:'Liberation Sans',sans-serif;font-weight:bold;fill:#606060;font-size:13.9px">1.0</text>
<text x="43.1" y="230.8" text-anchor="end" style="font-family:'Liberation Sans',sans-serif;font-weight:bold;fill:#606060;font-size:13.9px">1.5</text>
<text x="43.1" y="187.4" text-anchor="end" style="font-family:'Liberation Sans',sans-serif;font-weight:bold;fill:#606060;font-size:13.9px">2.0</text>
<text x="43.1" y="144.0" text-anchor="end" style="font-family:'Liberation Sans',sans-serif;font-weight:bold;fill:#606060;font-size:13.9px">2.5</text>
<text x="43.1" y="100.6" text-anchor="end" style="font-family:'Liberation Sans',sans-serif;font-weight:bold;fill:#606060;font-size:13.9px">3.0</text>
<text x="43.1" y="57.2" text-anchor="end" style="font-family:'Liberation Sans',sans-serif;font-weight:bold;fill:#606060;font-size:13.9px">3.5</text>
<text x="69.4" y="15.9" style="font-family:'Liberation Sans',sans-serif;font-weight:bold;fill:#606060;font-size:13.7px">Event(N)/year/5kg/<tspan font-style="italic" dx="0.6">g</tspan><tspan font-style="italic" font-size="11px" dy="3.8">X</tspan><tspan font-size="10.5px" dy="-8.3" dx="-6.6">2</tspan><tspan dy="4.5" dx="2.2">, </tspan><tspan dx="1.1" font-style="italic">E</tspan><tspan font-style="italic" font-size="10.5px" dy="2.8">R</tspan><tspan dy="-2.8">&gt;30 keV</tspan></text>
<text x="146" y="323" style="font-family:'Liberation Sans',sans-serif;font-weight:bold;fill:#606060;font-size:13.7px"><tspan font-style="italic">m</tspan><tspan font-style="italic" font-size="10px" dy="2.5">A'</tspan><tspan dy="-2.5" dx="1">[MeV]</tspan></text>
<text transform="translate(15.2,180.8) rotate(-90)" style="font-family:'Liberation Sans',sans-serif;font-weight:bold;fill:#606060;font-size:13.7px">eϵ<tspan font-size="10px" dx="1.3" dy="-0.6">×</tspan><tspan dx="1.3" dy="0.6">10</tspan><tspan font-size="10px" dy="-5">4</tspan></text>
<text x="130.8" y="78.4" style="font-family:'Liberation Sans',sans-serif;font-size:12px;fill:#0000ff">NA48</text>
<text x="62.1" y="257" style="font-family:'Liberation Sans',sans-serif;font-size:12px;fill:#ff0000">NA64</text>
<rect x="331.0" y="69.00" width="13.0" height="25.10" fill="#ff00ff"/>
<rect x="331.0" y="94.04" width="13.0" height="25.10" fill="#fff500"/>
<rect x="331.0" y="119.08" width="13.0" height="25.10" fill="#00eb00"/>
<rect x="331.0" y="144.12" width="13.0" height="25.10" fill="#00ffff"/>
<rect x="331.0" y="169.16" width="13.0" height="25.10" fill="#e1ffe1"/>
<rect x="331.0" y="194.20" width="13.0" height="25.10" fill="#ddeeff"/>
<rect x="331.0" y="219.24" width="13.0" height="25.10" fill="#00a5a2"/>
<path d="M331.0 94.04 H347.0" stroke="#444" stroke-width="0.8" opacity="0.8"/>
<text x="349.6" y="98.6" style="font-family:'Liberation Sans',sans-serif;font-weight:bold;fill:#606060;font-size:13.9px">10.0</text>
<path d="M331.0 119.08 H347.0" stroke="#444" stroke-width="0.8" opacity="0.8"/>
<text x="349.6" y="123.7" style="font-family:'Liberation Sans',sans-serif;font-weight:bold;fill:#606060;font-size:13.9px">5.0</text>
<path d="M331.0 144.12 H347.0" stroke="#444" stroke-width="0.8" opacity="0.8"/>
<text x="349.6" y="148.7" style="font-family:'Liberation Sans',sans-serif;font-weight:bold;fill:#606060;font-size:13.9px">3.0</text>
<path d="M331.0 169.16 H347.0" stroke="#444" stroke-width="0.8" opacity="0.8"/>
<text x="349.6" y="173.8" style="font-family:'Liberation Sans',sans-serif;font-weight:bold;fill:#606060;font-size:13.9px">1.0</text>
<path d="M331.0 194.20 H347.0" stroke="#444" stroke-width="0.8" opacity="0.8"/>
<text x="349.6" y="198.8" style="font-family:'Liberation Sans',sans-serif;font-weight:bold;fill:#606060;font-size:13.9px">0.5</text>
<path d="M331.0 219.24 H347.0" stroke="#444" stroke-width="0.8" opacity="0.8"/>
<text x="349.6" y="223.8" style="font-family:'Liberation Sans',sans-serif;font-weight:bold;fill:#606060;font-size:13.9px">0.2</text>
</svg>
</body></html>
